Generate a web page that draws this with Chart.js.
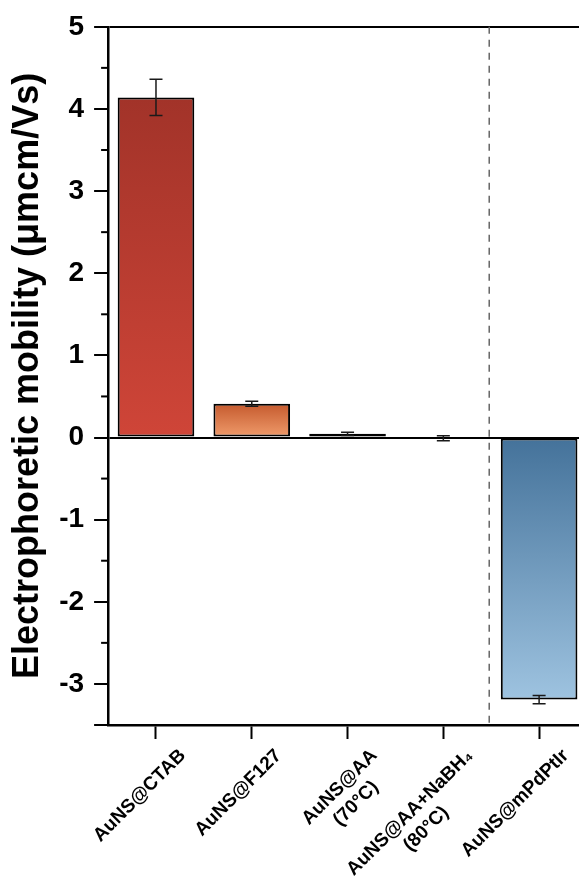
<!DOCTYPE html>
<html><head><meta charset="utf-8">
<script src="https://cdn.jsdelivr.net/npm/chart.js@4.4.1/dist/chart.umd.min.js"></script>
<style>
html,body{margin:0;padding:0;overflow:hidden;background:#fff;width:579px;height:888px}
#wrap{width:590px;height:888px;position:relative}
</style></head>
<body><div id="wrap"><canvas id="c"></canvas></div>
<script>
const categories = [["AuNS@CTAB"], ["AuNS@F127"], ["AuNS@AA", "(70°C)"], ["AuNS@AA+NaBH₄", "(80°C)"], ["AuNS@mPdPtIr"]];
const mobility = [4.14, 0.41, 0.045, -0.01, -3.19];
const mobilityError = [0.22, 0.03, 0.02, 0.03, 0.05];
const yTickValues = [-3, -2, -1, 0, 1, 2, 3, 4, 5];
const yMinorTickValues = [-2.5, -1.5, -0.5, 0.5, 1.5, 2.5, 3.5, 4.5];
const yMin = -3.5, yMax = 5;
const separatorAfterIndex = 3;
const barColors = [["#A23329", "#CF4538"], ["#C55A2E", "#F09C6C"], ["#111111", "#111111"], ["#111111", "#111111"], ["#44729A", "#9EC3E0"]];
const FONT = '"Liberation Sans", Arial, sans-serif';

const extras = {
  id: 'extras',
  afterDatasetsDraw(chart) {
    const c = chart.ctx, xs = chart.scales.x, ys = chart.scales.y, a = chart.chartArea;
    const sx = (xs.getPixelForValue(separatorAfterIndex) + xs.getPixelForValue(separatorAfterIndex + 1)) / 2 - 2;
    c.save();
    c.strokeStyle = '#666666'; c.lineWidth = 1.5; c.setLineDash([7, 6]);
    c.beginPath(); c.moveTo(sx, a.top); c.lineTo(sx, a.bottom); c.stroke();
    c.restore();
    const meta = chart.getDatasetMeta(0);
    c.save(); c.strokeStyle = '#1a1a1a'; c.lineWidth = 1.5;
    meta.data.forEach((bar, i) => {
      const x = bar.x;
      const hi = ys.getPixelForValue(mobility[i] + mobilityError[i]);
      const lo = ys.getPixelForValue(mobility[i] - mobilityError[i]);
      c.beginPath();
      c.moveTo(x, hi); c.lineTo(x, lo);
      c.moveTo(x - 6.5, hi); c.lineTo(x + 6.5, hi);
      c.moveTo(x - 6.5, lo); c.lineTo(x + 6.5, lo);
      c.stroke();
    });
    c.restore();
  },
  afterDraw(chart) {
    const c = chart.ctx, xs = chart.scales.x, ys = chart.scales.y, a = chart.chartArea;
    c.save(); c.strokeStyle = '#000'; c.lineWidth = 2;
    yMinorTickValues.forEach(v => {
      const py = ys.getPixelForValue(v);
      c.beginPath(); c.moveTo(a.left - 7, py); c.lineTo(a.left, py); c.stroke();
    });
    c.restore();
    c.save();
    c.font = 'bold 19px ' + FONT; c.fillStyle = '#000';
    categories.forEach((lines, i) => {
      const x = xs.getPixelForValue(i);
      c.save();
      c.translate(x + 20, a.bottom + 21);
      c.rotate(-Math.PI / 4);
      const w = Math.max(...lines.map(l => c.measureText(l).width));
      c.textAlign = 'center'; c.textBaseline = 'top';
      lines.forEach((l, k) => c.fillText(l, -w / 2, k * 23));
      c.restore();
    });
    c.restore();
  }
};

new Chart(document.getElementById('c'), {
  type: 'bar',
  data: {
    labels: categories.map(l => l.join(' ')),
    datasets: [{
      data: mobility,
      backgroundColor: (ctx) => {
        const chart = ctx.chart, area = chart.chartArea;
        if (!area || ctx.type !== 'data' || !chart.scales.y) return '#888';
        const i = ctx.dataIndex, ys = chart.scales.y;
        const p0 = ys.getPixelForValue(0), p1 = ys.getPixelForValue(mobility[i]);
        const top = Math.min(p0, p1), bot = Math.max(p0, p1);
        if (bot - top < 2) return barColors[i][0];
        const g = chart.ctx.createLinearGradient(0, top, 0, bot);
        g.addColorStop(0, barColors[i][0]); g.addColorStop(1, barColors[i][1]);
        return g;
      },
      borderColor: '#000',
      borderWidth: 2,
      borderSkipped: false,
      categoryPercentage: 1,
      barPercentage: 0.8
    }]
  },
  options: {
    responsive: true,
    maintainAspectRatio: false,
    animation: false,
    layout: { padding: { left: 0, right: 3, top: 26, bottom: 149 } },
    plugins: { legend: { display: false }, tooltip: { enabled: false } },
    scales: {
      x: {
        offset: true,
        ticks: { display: false },
        grid: { drawOnChartArea: false, offset: false, tickLength: 14, tickColor: '#000', tickWidth: 2 },
        border: { color: '#000', width: 2.5 }
      },
      y: {
        min: yMin, max: yMax,
        afterBuildTicks: s => { s.ticks = [yMin, ...yTickValues].map(v => ({ value: v })); },
        ticks: {
          callback: v => yTickValues.includes(v) ? String(v) : '',
          font: { family: FONT, size: 28, weight: 'bold' }, color: '#000', padding: 10
        },
        grid: {
          drawOnChartArea: true,
          color: ctx => (ctx.tick && (ctx.tick.value === 0 || ctx.tick.value === yMax)) ? '#000' : 'rgba(0,0,0,0)',
          lineWidth: 2, tickLength: 14, tickColor: '#000', tickWidth: 2
        },
        border: { color: '#000', width: 2.5 },
        title: {
          display: true, text: 'Electrophoretic mobility (μmcm/Vs)', color: '#000',
          font: { family: FONT, size: 36, weight: 'bold' }, padding: { top: 6, bottom: 0 }
        }
      }
    }
  },
  plugins: [extras]
});
</script>
</body></html>
